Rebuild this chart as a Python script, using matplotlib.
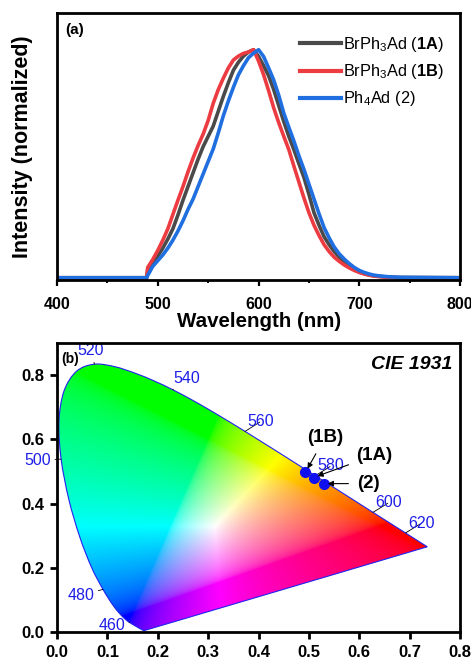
import numpy as np
import matplotlib
matplotlib.use('Agg')
import matplotlib.pyplot as plt
from matplotlib.patches import PathPatch
from matplotlib.path import Path
from matplotlib.ticker import MultipleLocator, FormatStrFormatter

plt.rcParams['font.family'] = ['Liberation Sans', 'DejaVu Sans']
plt.rcParams['mathtext.fontset'] = 'custom'
plt.rcParams['mathtext.rm'] = 'Liberation Sans'
plt.rcParams['mathtext.bf'] = 'Liberation Sans:bold'
plt.rcParams['mathtext.it'] = 'Liberation Sans:italic'

# ---------------- spectra data ----------------
wl_grid = list(range(490, 745, 5))  # 490 ... 740
spec_1A = [0.035, 0.06, 0.095, 0.13, 0.17, 0.215, 0.275, 0.34, 0.40, 0.46,
           0.52, 0.575, 0.62, 0.665, 0.73, 0.795, 0.855, 0.91, 0.945, 0.972,
           0.99, 1.0, 0.97, 0.93, 0.885, 0.825, 0.755, 0.685, 0.62, 0.562,
           0.50, 0.44, 0.365, 0.285, 0.23, 0.18, 0.145, 0.115, 0.09, 0.07,
           0.052, 0.038, 0.026, 0.018, 0.012, 0.008, 0.006, 0.004, 0.003, 0.002,
           0.001]
spec_1B = [0.045, 0.08, 0.12, 0.165, 0.215, 0.278, 0.34, 0.40, 0.465, 0.525,
           0.58, 0.63, 0.69, 0.765, 0.825, 0.875, 0.92, 0.955, 0.972, 0.984,
           0.99, 1.0, 0.95, 0.89, 0.82, 0.745, 0.68, 0.62, 0.562, 0.49,
           0.42, 0.35, 0.285, 0.23, 0.185, 0.145, 0.115, 0.09, 0.072, 0.056,
           0.043, 0.032, 0.023, 0.016, 0.011, 0.007, 0.005, 0.003, 0.002, 0.001,
           0.0]
spec_2 = [0.01, 0.05, 0.075, 0.10, 0.13, 0.165, 0.205, 0.25, 0.30, 0.345,
          0.40, 0.455, 0.51, 0.565, 0.635, 0.71, 0.775, 0.835, 0.89, 0.93,
          0.965, 0.985, 1.0, 0.97, 0.92, 0.867, 0.80, 0.722, 0.66, 0.60,
          0.535, 0.475, 0.41, 0.345, 0.28, 0.22, 0.175, 0.135, 0.105, 0.082,
          0.062, 0.045, 0.032, 0.023, 0.016, 0.011, 0.008, 0.006, 0.004, 0.003,
          0.002]
spec_labels = [r'BrPh$_3$Ad ($\mathbf{1A}$)', r'BrPh$_3$Ad ($\mathbf{1B}$)', r'Ph$_4$Ad (2)']
spec_colors = ['#4a4a4a', '#ec3b41', '#1f6fe0']

# ---------------- CIE data ----------------
locus_wl = [380, 400, 420, 430, 440, 450, 460, 465, 470, 475, 480, 485, 490, 495,
            500, 505, 510, 515, 520, 525, 530, 535, 540, 545, 550, 555, 560, 565,
            570, 575, 580, 585, 590, 595, 600, 605, 610, 615, 620, 625, 630, 640,
            650, 660, 680, 700]
locus_x = [0.1741, 0.1733, 0.1714, 0.1689, 0.1644, 0.1566, 0.1440, 0.1355, 0.1241,
           0.1096, 0.0913, 0.0687, 0.0454, 0.0235, 0.0082, 0.0039, 0.0139, 0.0389,
           0.0743, 0.1142, 0.1547, 0.1929, 0.2296, 0.2658, 0.3016, 0.3373, 0.3731,
           0.4087, 0.4441, 0.4788, 0.5125, 0.5448, 0.5752, 0.6029, 0.6270, 0.6482,
           0.6658, 0.6801, 0.6915, 0.7006, 0.7079, 0.7190, 0.7260, 0.7300, 0.7334,
           0.7347]
locus_y = [0.0050, 0.0048, 0.0051, 0.0069, 0.0109, 0.0177, 0.0297, 0.0399, 0.0578,
           0.0868, 0.1327, 0.2007, 0.2950, 0.4127, 0.5384, 0.6548, 0.7502, 0.8120,
           0.8338, 0.8262, 0.8059, 0.7816, 0.7543, 0.7243, 0.6923, 0.6589, 0.6245,
           0.5896, 0.5547, 0.5202, 0.4866, 0.4544, 0.4242, 0.3965, 0.3725, 0.3514,
           0.3340, 0.3197, 0.3083, 0.2993, 0.2920, 0.2809, 0.2740, 0.2700, 0.2666,
           0.2653]
label_wl = [460, 480, 500, 520, 540, 560, 580, 600, 620]
label_offsets = {460: (-13, -2.5), 480: (-16, -4.2), 500: (-17, -1.2), 520: (-2.4, 9.7),
                 540: (10, 8.4), 560: (11.4, 7.2), 580: (11.5, 7.1), 600: (11.5, 7.1),
                 620: (11.4, 7.0)}

cie_names = ['(1A)', '(1B)', '(2)']
cie_x = [0.509, 0.493, 0.529]
cie_y = [0.481, 0.497, 0.462]
cie_text_offsets = [(44, 16), (14, 25), (32, 0)]

assert len(spec_1A) == len(wl_grid) == len(spec_1B) == len(spec_2)
assert len(locus_wl) == len(locus_x) == len(locus_y)


def smooth_closed_path(xs, ys):
    """Bezier (Catmull-Rom) through the locus points, straight purple line back."""
    P = np.column_stack([xs, ys])
    n = len(P)
    verts = [P[0]]
    codes = [Path.MOVETO]
    for i in range(n - 1):
        p0 = P[i - 1] if i > 0 else P[i]
        p1 = P[i]
        p2 = P[i + 1]
        p3 = P[i + 2] if i + 2 < n else P[i + 1]
        c1 = p1 + (p2 - p0) / 6.0
        c2 = p2 - (p3 - p1) / 6.0
        verts += [c1, c2, p2]
        codes += [Path.CURVE4] * 3
    verts += [P[0], P[0]]
    codes += [Path.LINETO, Path.CLOSEPOLY]
    return Path(np.array(verts), codes)


fig = plt.figure(figsize=(4.71, 6.62), dpi=100)
ax1 = fig.add_axes([0.121, 0.577, 0.856, 0.403])
ax2 = fig.add_axes([0.121, 0.0453, 0.856, 0.4367])

# ---------------- panel (a) ----------------
for vals, lab, col in zip([spec_1A, spec_1B, spec_2], spec_labels, spec_colors):
    x = [400, 489] + wl_grid + [800]
    y = [0, 0] + vals + [0]
    ax1.plot(x, y, color=col, lw=2.6, label=lab)
ax1.set_xlim(400, 800)
ax1.set_ylim(-0.01, 1.16)
ax1.set_yticks([])
ax1.xaxis.set_major_locator(MultipleLocator(100))
ax1.xaxis.set_minor_locator(MultipleLocator(50))
ax1.tick_params(axis='x', which='major', direction='out', length=4, width=1.6,
                labelsize=11.5, pad=8)
ax1.tick_params(axis='x', which='minor', direction='out', length=2.5, width=1.4)
for t in ax1.get_xticklabels():
    t.set_fontweight('bold')
ax1.set_xlabel('Wavelength (nm)', fontsize=14.8, fontweight='bold', labelpad=0)
ax1.set_ylabel('Intensity (normalized)', fontsize=15.5, fontweight='bold', labelpad=17)
for s in ax1.spines.values():
    s.set_linewidth(2)
ax1.text(0.02, 0.965, '(a)', transform=ax1.transAxes, fontsize=11,
         fontweight='bold', va='top', ha='left')
leg = ax1.legend(loc='upper right', bbox_to_anchor=(0.985, 0.955), frameon=False,
                 fontsize=11.8, handlelength=2.5, handletextpad=0.15, labelspacing=0.5,
                 borderaxespad=0.2)
for h in leg.get_lines():
    h.set_linewidth(3)

# ---------------- panel (b) ----------------
nx, ny = 600, 600
gx = np.linspace(0.0005, 0.8, nx)
gy = np.linspace(0.0005, 0.9, ny)
XX, YY = np.meshgrid(gx, gy)
X = XX / YY
Yc = np.ones_like(XX)
Z = (1 - XX - YY) / YY
R = 3.2406 * X - 1.5372 * Yc - 0.4986 * Z
G = -0.9689 * X + 1.8758 * Yc + 0.0415 * Z
B = 0.0557 * X - 0.2040 * Yc + 1.0570 * Z
rgb = np.stack([R, G, B], axis=-1)
rgb = np.clip(rgb, 0, None)
rgb = rgb / rgb.max(axis=-1, keepdims=True)
rgb = np.where(rgb <= 0.0031308, 12.92 * rgb, 1.055 * np.power(rgb, 1 / 2.4) - 0.055)
rgb = np.clip(rgb, 0, 1)

im = ax2.imshow(rgb, origin='lower', extent=[0, 0.8, 0, 0.9], aspect='auto',
                interpolation='bilinear', zorder=1)
locus_path = smooth_closed_path(locus_x, locus_y)
patch = PathPatch(locus_path, facecolor='none', edgecolor='#2222ee', lw=0.8, zorder=2)
ax2.add_patch(patch)
im.set_clip_path(patch)

for wl in label_wl:
    i = locus_wl.index(wl)
    ax2.annotate(str(wl), xy=(locus_x[i], locus_y[i]), xytext=label_offsets[wl],
                 textcoords='offset points', ha='center', va='center',
                 fontsize=11.5, color='#1e1ee6', annotation_clip=False,
                 arrowprops=dict(arrowstyle='-', color='black', lw=0.6,
                                 shrinkA=1, shrinkB=0), zorder=3)

ax2.plot(cie_x, cie_y, 'o', color='#1010ee', ms=7, zorder=4)
for name, px, py, off in zip(cie_names, cie_x, cie_y, cie_text_offsets):
    ax2.annotate(name, xy=(px, py), xytext=off, textcoords='offset points',
                 ha='center', va='center', fontsize=13.5, fontweight='bold',
                 arrowprops=dict(arrowstyle='-|>', color='black', lw=0.8,
                                 mutation_scale=8, shrinkA=4, shrinkB=3), zorder=5)

ax2.text(0.98, 0.955, 'CIE 1931', transform=ax2.transAxes, fontsize=14,
         fontweight='bold', fontstyle='italic', ha='right', va='top')
ax2.text(0.01, 0.97, '(b)', transform=ax2.transAxes, fontsize=10,
         fontweight='bold', ha='left', va='top', zorder=6)

ax2.set_xlim(0, 0.8)
ax2.set_ylim(0, 0.9)
ax2.xaxis.set_major_locator(MultipleLocator(0.1))
ax2.yaxis.set_major_locator(MultipleLocator(0.2))
ax2.xaxis.set_major_formatter(FormatStrFormatter('%.1f'))
ax2.yaxis.set_major_formatter(FormatStrFormatter('%.1f'))
ax2.tick_params(axis='x', direction='out', length=5, width=2, labelsize=12, pad=4)
ax2.tick_params(axis='y', direction='out', length=5, width=2, labelsize=12, pad=4)
for t in ax2.get_xticklabels() + ax2.get_yticklabels():
    t.set_fontweight('bold')
for s in ax2.spines.values():
    s.set_linewidth(2)
    s.set_zorder(10)

fig.savefig('out.png', dpi=100)
